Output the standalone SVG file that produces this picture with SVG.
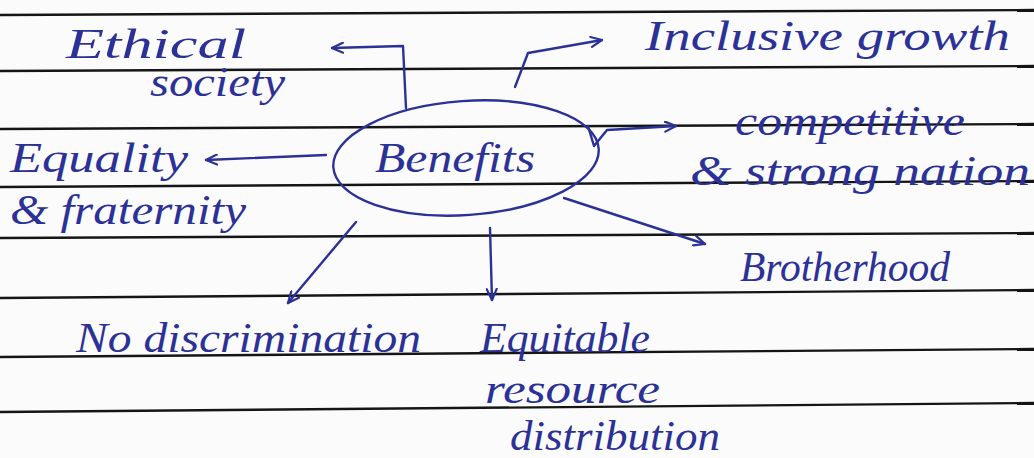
<svg xmlns="http://www.w3.org/2000/svg" width="1034" height="458" viewBox="0 0 1034 458">
<style>
.rule{stroke:#151515;stroke-width:2.4;fill:none}
.ink{stroke:#2b3196;stroke-width:2.4;fill:none;stroke-linecap:round;stroke-linejoin:round}
.t{font-family:"Liberation Serif","DejaVu Serif",serif;font-style:italic;fill:#2b3196;font-size:42px}
</style>
<defs>
<marker id="ah" markerWidth="14" markerHeight="12" refX="12" refY="6" orient="auto" markerUnits="userSpaceOnUse">
<path d="M1,1 L12,6 L1,11" fill="none" stroke="#2b3196" stroke-width="2.2" stroke-linecap="round" stroke-linejoin="round"/>
</marker>
</defs>
<rect width="1034" height="458" fill="#fbfbfb"/>
<g id="paper">
<line class="rule" x1="0" y1="15" x2="1034" y2="10"/>
<line class="rule" x1="0" y1="71" x2="1034" y2="66"/>
<line class="rule" x1="0" y1="129" x2="1034" y2="124"/>
<line class="rule" x1="0" y1="187" x2="1034" y2="181"/>
<line class="rule" x1="0" y1="238" x2="1034" y2="233"/>
<line class="rule" x1="0" y1="298" x2="1034" y2="290"/>
<line class="rule" x1="0" y1="357" x2="1034" y2="349"/>
<line class="rule" x1="0" y1="412" x2="1034" y2="403"/>
</g>
<g id="connectors">
<path class="ink" d="M406,108 L403,46 L332,48" marker-end="url(#ah)"/>
<path class="ink" d="M515,87 L528,53 L602,40" marker-end="url(#ah)"/>
<path class="ink" d="M588,126 L594,146 L607,130 L676,126" marker-end="url(#ah)"/>
<path class="ink" d="M326,155 L206,160" marker-end="url(#ah)"/>
<path class="ink" d="M564,198 L705,244" marker-end="url(#ah)"/>
<path class="ink" d="M356,222 L288,303" marker-end="url(#ah)"/>
<path class="ink" d="M490,228 L492,300" marker-end="url(#ah)"/>
</g>
<g id="benefits">
<ellipse class="ink" cx="466" cy="158" rx="133" ry="57" transform="rotate(-4 466 158)"/>
<text class="t" x="375" y="172" textLength="160" lengthAdjust="spacingAndGlyphs">Benefits</text>
</g>
<g id="ethical-society">
<text class="t" x="66" y="58" textLength="180" lengthAdjust="spacingAndGlyphs">Ethical</text>
<text class="t" x="150" y="96" textLength="135" lengthAdjust="spacingAndGlyphs">society</text>
</g>
<g id="inclusive-growth">
<text class="t" x="645" y="50" textLength="365" lengthAdjust="spacingAndGlyphs">Inclusive growth</text>
</g>
<g id="competitive-nation">
<text class="t" x="735" y="135" textLength="230" lengthAdjust="spacingAndGlyphs">competitive</text>
<text class="t" x="690" y="185" textLength="340" lengthAdjust="spacingAndGlyphs">&amp; strong nation</text>
</g>
<g id="equality-fraternity">
<text class="t" x="10" y="172" textLength="178" lengthAdjust="spacingAndGlyphs">Equality</text>
<text class="t" x="10" y="224" textLength="236" lengthAdjust="spacingAndGlyphs">&amp; fraternity</text>
</g>
<g id="brotherhood">
<text class="t" x="740" y="281" textLength="210" lengthAdjust="spacingAndGlyphs">Brotherhood</text>
</g>
<g id="no-discrimination">
<text class="t" x="76" y="352" textLength="345" lengthAdjust="spacingAndGlyphs">No discrimination</text>
</g>
<g id="equitable-distribution">
<text class="t" x="480" y="352" textLength="170" lengthAdjust="spacingAndGlyphs">Equitable</text>
<text class="t" x="485" y="403" textLength="175" lengthAdjust="spacingAndGlyphs">resource</text>
<text class="t" x="510" y="450" textLength="210" lengthAdjust="spacingAndGlyphs">distribution</text>
</g>
</svg>
